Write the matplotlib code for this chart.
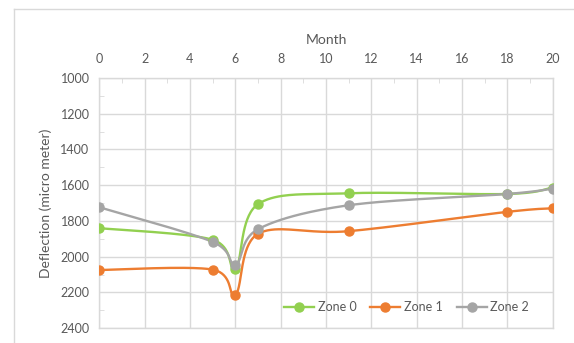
import numpy as np
import matplotlib
matplotlib.use('Agg')
import matplotlib.pyplot as plt
from matplotlib.lines import Line2D
from matplotlib.ticker import MultipleLocator

# Deflection readings per zone
months = [0, 5, 6, 7, 11, 18, 20]
zone0 = [1840, 1905, 2068, 1706, 1645, 1649, 1613]
zone1 = [2074, 2072, 2213, 1872, 1857, 1749, 1729]
zone2 = [1723, 1917, 2046, 1846, 1712, 1649, 1619]

series = [('Zone 0', zone0, '#92D050'),
          ('Zone 1', zone1, '#ED7D31'),
          ('Zone 2', zone2, '#A5A5A5')]

gris_texto = '#595959'
gris_linea = '#D9D9D9'

plt.rcParams['font.family'] = ['Lato', 'DejaVu Sans']
plt.rcParams['font.size'] = 9

fig = plt.figure(figsize=(5.74, 3.43), dpi=100)
ax = fig.add_axes([0.173, 0.043, 0.7897, 0.7297])

ax.set_xlim(0, 20)
ax.set_ylim(2400, 1000)


def suavizar(x, y, n=40):
    # curva suavizada tipo Excel (Bezier con tangentes Catmull-Rom, en pixeles)
    pts = ax.transData.transform(np.column_stack([x, y]))
    ext = np.vstack([pts[0], pts, pts[-1]])
    salida = [pts[0]]
    t = np.linspace(0, 1, n)[1:, None]
    for i in range(len(pts) - 1):
        p0, p1, p2, p3 = ext[i], ext[i + 1], ext[i + 2], ext[i + 3]
        c1 = p1 + (p2 - p0) / 6
        c2 = p2 - (p3 - p1) / 6
        seg = ((1 - t) ** 3) * p1 + 3 * ((1 - t) ** 2) * t * c1 + 3 * (1 - t) * t ** 2 * c2 + t ** 3 * p2
        salida.extend(seg)
    salida = np.array(salida)
    datos = ax.transData.inverted().transform(salida)
    return datos[:, 0], datos[:, 1]


handles = []
for nombre, valores, color in series:
    xs, ys = suavizar(months, valores)
    ax.plot(xs, ys, color=color, lw=1.7, solid_capstyle='round', zorder=3)
    ax.plot(months, valores, 'o', color=color, ms=6.5, zorder=4)
    handles.append(Line2D([], [], color=color, lw=1.7, marker='o', ms=6.5))

# ejes
ax.xaxis.set_major_locator(MultipleLocator(2))
ax.xaxis.set_minor_locator(MultipleLocator(1))
ax.yaxis.set_major_locator(MultipleLocator(200))
ax.yaxis.set_minor_locator(MultipleLocator(100))
ax.xaxis.tick_top()
ax.xaxis.set_label_position('top')
ax.tick_params(which='major', length=0, colors=gris_texto, labelsize=9, pad=7)
ax.tick_params(axis='x', which='major', pad=9)
ax.tick_params(which='minor', length=3.5, direction='in', color=gris_linea)
ax.tick_params(axis='x', which='minor', top=True, bottom=False)
ax.grid(True, which='major', color=gris_linea, lw=1, zorder=0)
ax.set_axisbelow(True)
for lado in ax.spines.values():
    lado.set_color(gris_linea)
    lado.set_linewidth(1)

ax.set_xlabel('Month', color=gris_texto, fontsize=10, labelpad=7)
ax.set_ylabel('Deflection (micro meter)', color=gris_texto, fontsize=10, labelpad=6)

ax.legend(handles, [s[0] for s in series], loc='lower right', frameon=False,
          ncol=3, fontsize=9, labelcolor=gris_texto, handlelength=2.4,
          handletextpad=0.3, columnspacing=1.1, bbox_to_anchor=(0.973, 0.015))

# borde del area del grafico
fig.add_artist(Line2D([14 / 574, 14 / 574], [0, 1 - 9 / 343], transform=fig.transFigure,
                      color=gris_linea, lw=1))
fig.add_artist(Line2D([14 / 574, 1], [1 - 9 / 343, 1 - 9 / 343], transform=fig.transFigure,
                      color=gris_linea, lw=1))

fig.savefig('out.png', dpi=100)
plt.close(fig)
